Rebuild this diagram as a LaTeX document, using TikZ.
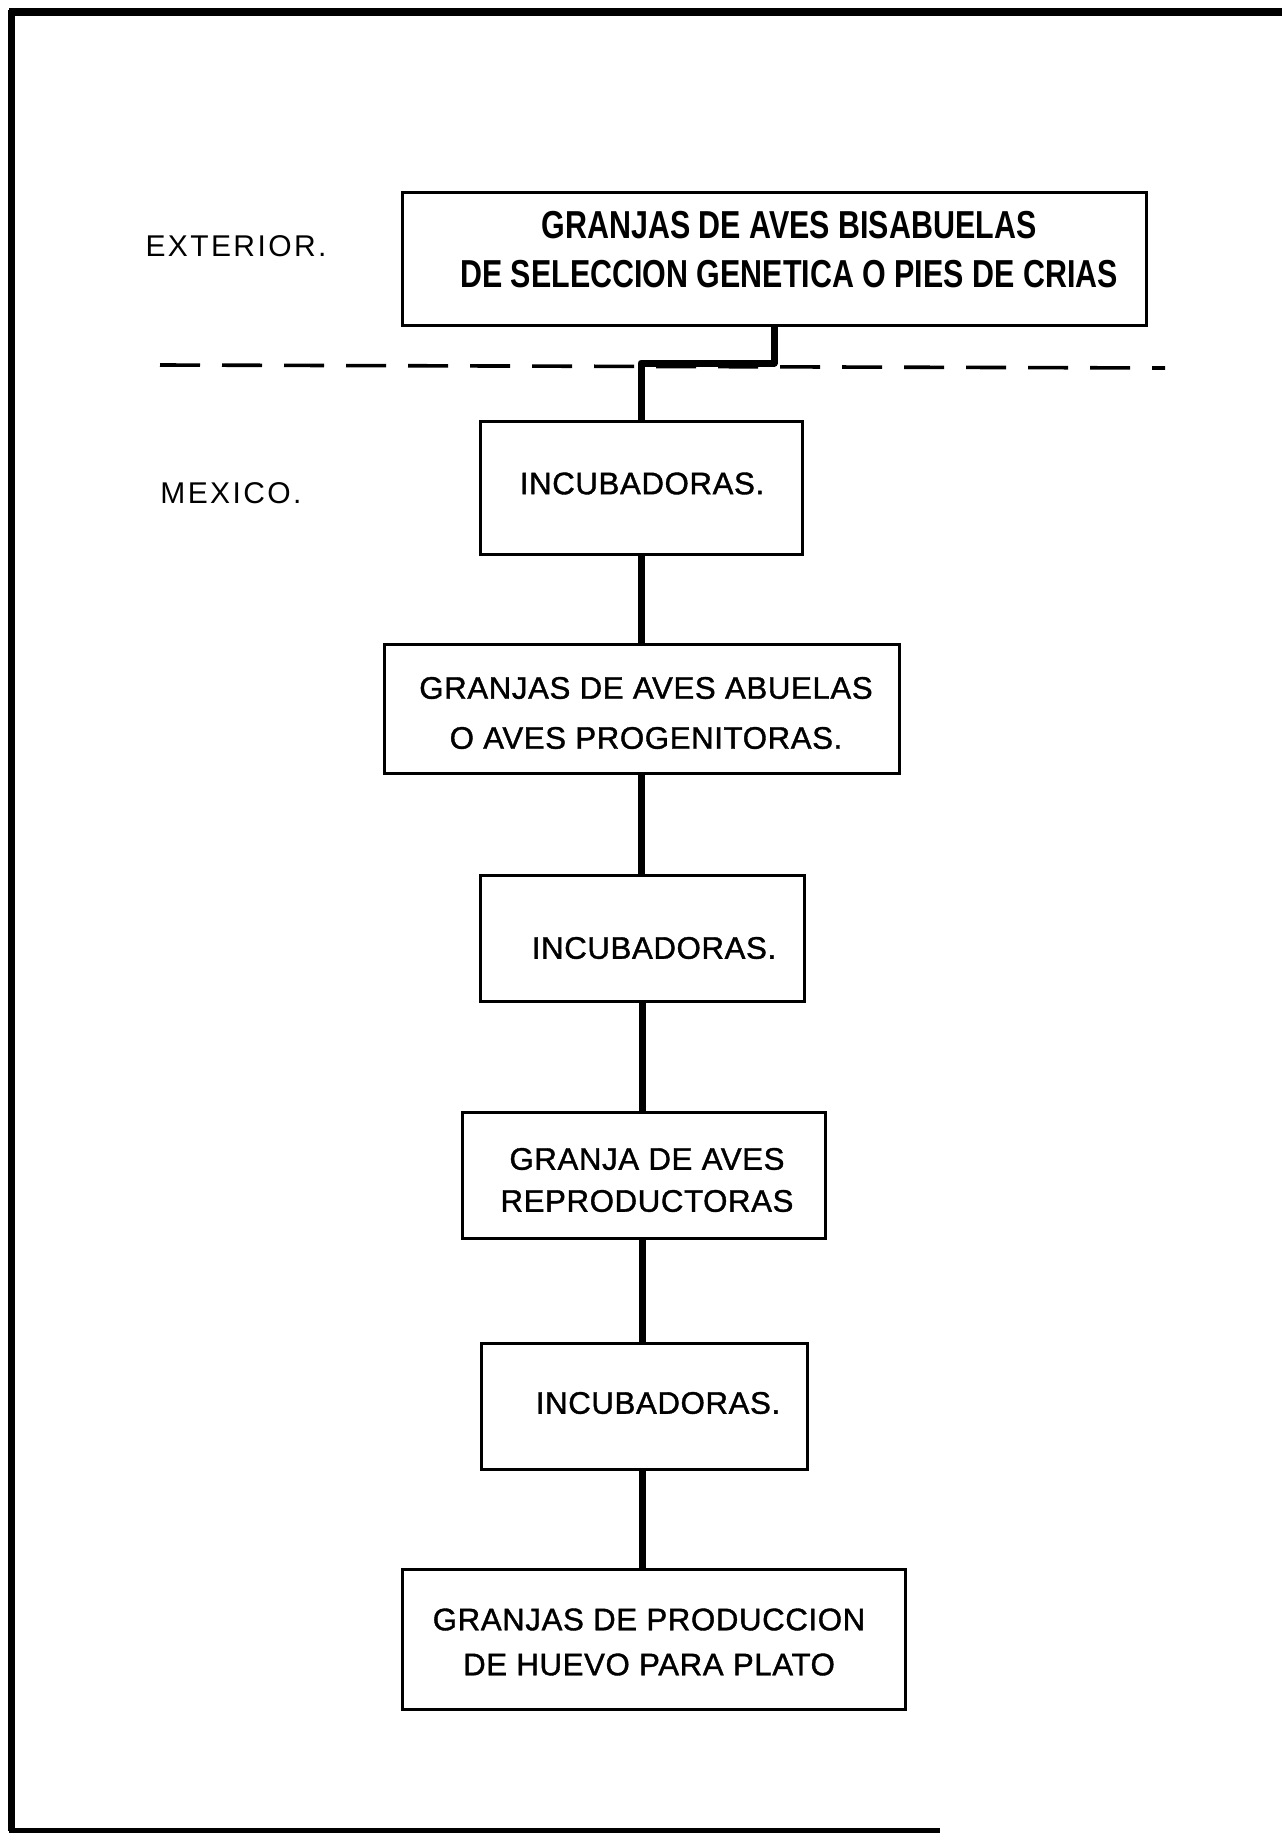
\documentclass[tikz,border=0pt]{standalone}
\usepackage{fontspec}
\setmainfont{Liberation Sans}
\newfontfamily\topfont[FakeStretch=0.78]{Liberation Sans}
\newfontfamily\boxfont[FakeBold=1.2,LetterSpace=2]{Liberation Sans}
\newfontfamily\sidefont[LetterSpace=8]{Liberation Sans}
\begin{document}
\begin{tikzpicture}[x=0.5pt,y=-0.5pt,
  box/.style={draw,line width=1.5pt,inner sep=0pt},
  lbl/.style={font=\boxfont\fontsize{15.6pt}{20pt}\selectfont,align=center,inner sep=0pt},
  toplbl/.style={font=\topfont\bfseries\fontsize{19.5pt}{23.5pt}\selectfont,align=center,inner sep=0pt},
  sidelbl/.style={font=\sidefont\fontsize{15pt}{18pt}\selectfont,inner sep=0pt},
  link/.style={line width=3.5pt,line join=round},
  frame/.style={line width=3.5pt}]
\useasboundingbox (0,0) rectangle (1282,1835);
% frame
\draw[line width=4pt] (9,12) -- (1282,12);
\draw[frame] (11,10) -- (11,1831);
\draw[line width=2.5pt] (9,1830) -- (940,1830);
% side labels
\node[sidelbl] (ext) at (236,246) {EXTERIOR.};
\node[sidelbl] (mex) at (231,493) {MEXICO.};
% boxes
\node[box,minimum width=372pt,minimum height=66pt] (top) at (774,259) {};
\node[box,minimum width=161pt,minimum height=66.5pt] (inc1) at (641,487.5) {};
\node[box,minimum width=257.5pt,minimum height=64.5pt] (abu) at (641.5,708.5) {};
\node[box,minimum width=162pt,minimum height=63pt] (inc2) at (642,938) {};
\node[box,minimum width=181.5pt,minimum height=63pt] (rep) at (643.5,1175) {};
\node[box,minimum width=163pt,minimum height=63pt] (inc3) at (644,1406) {};
\node[box,minimum width=251.5pt,minimum height=70pt] (prod) at (653.5,1639) {};
% texts
\node[toplbl] (topt) at (789,250) {GRANJAS DE AVES BISABUELAS\\[1pt]DE SELECCION GENETICA O PIES DE CRIAS};
\node[lbl] (inc1t) at (642,483.5) {INCUBADORAS.};
\node[lbl,font=\boxfont\fontsize{15.6pt}{25pt}\selectfont] (abut) at (646,713) {GRANJAS DE AVES ABUELAS\\O AVES PROGENITORAS.};
\node[lbl] (inc2t) at (654,948) {INCUBADORAS.};
\node[lbl,font=\boxfont\fontsize{15.6pt}{21pt}\selectfont] (rept) at (647,1180) {GRANJA DE AVES\\REPRODUCTORAS};
\node[lbl] (inc3t) at (658,1403) {INCUBADORAS.};
\node[lbl,font=\boxfont\fontsize{15.6pt}{22.5pt}\selectfont] (prodt) at (649,1642) {GRANJAS DE PRODUCCION\\DE HUEVO PARA PLATO};
% dashed border line
\coordinate (dl) at (160,365);
\coordinate (dr) at (1165,368);
\draw[line width=1.8pt,dash pattern=on 20pt off 11pt] (dl) -- (dr);
% connectors
\coordinate (jog) at (0,363);
\draw[link] (top.south) -- (top.south |- jog) -- (inc1.north |- jog) -- (inc1.north);
\draw[link] (inc1.south) -- (inc1.south |- abu.north);
\draw[link] (inc1.south |- abu.south) -- (inc1.south |- inc2.north);
\draw[link] (inc2.south) -- (inc2.south |- rep.north);
\draw[link] (inc2.south |- rep.south) -- (inc2.south |- inc3.north);
\draw[link] (inc2.south |- inc3.south) -- (inc2.south |- prod.north);
\end{tikzpicture}
\end{document}
